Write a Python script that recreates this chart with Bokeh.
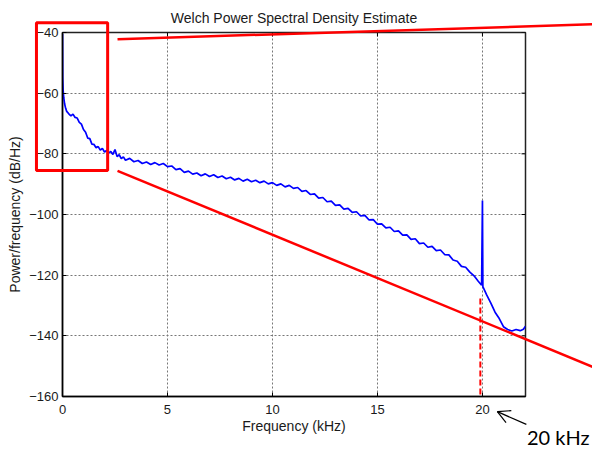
import math
from bokeh.plotting import figure
from bokeh.models import Range1d, FixedTicker
from bokeh.core.properties import value
from bokeh.embed import file_html
from bokeh.resources import INLINE

# ---- data (frequency in kHz, PSD in dB/Hz) ----
freq_khz = [0.0, 0.01, 0.03, 0.06, 0.1, 0.15, 0.2, 0.3, 0.4, 0.5, 0.6, 0.7, 0.8, 0.9,
            1.0, 1.1, 1.2, 1.3, 1.4, 1.5, 1.6, 1.7, 1.8, 1.9, 2.0, 2.1, 2.2, 2.3, 2.4,
            2.5, 2.6, 2.7, 2.8, 2.9, 3.0, 3.2, 3.4, 3.6, 3.8, 4.0, 4.2, 4.4, 4.6, 4.8,
            5.0, 5.2, 5.4, 5.6, 5.8, 6.0, 6.2, 6.4, 6.6, 6.8, 7.0, 7.2, 7.4, 7.6, 7.8,
            8.0, 8.2, 8.4, 8.6, 8.8, 9.0, 9.2, 9.4, 9.6, 9.8, 10.0, 10.2, 10.4, 10.6,
            10.8, 11.0, 11.2, 11.4, 11.6, 11.8, 12.0, 12.2, 12.4, 12.6, 12.8, 13.0,
            13.2, 13.4, 13.6, 13.8, 14.0, 14.2, 14.4, 14.6, 14.8, 15.0, 15.2, 15.4,
            15.6, 15.8, 16.0, 16.2, 16.4, 16.6, 16.8, 17.0, 17.2, 17.4, 17.6, 17.8,
            18.0, 18.2, 18.4, 18.6, 18.8, 19.0, 19.2, 19.4, 19.6, 19.8, 19.96, 20.0,
            20.02, 20.2, 20.4, 20.6, 20.8, 21.0, 21.2, 21.4, 21.6, 21.8, 21.95, 22.05]
psd_db = [-40.5, -55.0, -59.0, -61.5, -63.5, -65.0, -66.0, -66.8, -67.5, -66.9, -68.0,
          -68.2, -69.6, -70.2, -72.0, -72.9, -74.8, -75.0, -76.8, -76.9, -78.0, -77.6,
          -78.8, -78.2, -79.4, -78.9, -79.8, -79.2, -80.2, -78.6, -80.9, -80.3, -81.6,
          -81.0, -82.1, -81.5, -82.6, -82.2, -83.2, -82.7, -83.5, -82.9, -83.7, -83.2,
          -84.2, -84.0, -85.2, -84.9, -86.1, -85.7, -86.7, -86.3, -87.2, -86.6, -87.5,
          -86.9, -87.8, -87.3, -88.2, -87.7, -88.6, -88.1, -89.0, -88.4, -89.2, -88.7,
          -89.5, -89.0, -89.9, -89.5, -90.4, -89.9, -90.9, -90.4, -91.4, -91.1, -92.4,
          -92.1, -93.4, -93.2, -94.6, -94.4, -95.8, -95.6, -97.0, -96.8, -98.2, -98.0,
          -99.3, -99.1, -100.5, -100.3, -101.8, -101.7, -103.2, -103.1, -104.4, -104.2,
          -105.6, -105.4, -106.8, -106.7, -108.2, -108.0, -109.6, -109.4, -110.8,
          -110.5, -111.9, -111.7, -113.2, -113.3, -115.0, -115.4, -117.1, -117.4,
          -119.0, -120.2, -122.0, -123.3, -95.4, -123.8, -126.5, -129.2, -132.2,
          -134.3, -137.0, -137.9, -138.4, -137.9, -138.3, -137.8, -136.8]

x_ticks = [0, 5, 10, 15, 20]
y_ticks = [-160, -140, -120, -100, -80, -60, -40]
x_limits = (0, 22.05)
y_limits = (-160, -40)

title_text = "Welch Power Spectral Density Estimate"
x_label = "Frequency (kHz)"
y_label = "Power/frequency (dB/Hz)"
callout_text = ["20 kHz"]

# ---- annotation geometry (data units) ----
zoom_box_left = [-1.24]
zoom_box_right = [2.15]
zoom_box_top = [-36.8]
zoom_box_bottom = [-85.5]
upper_line_x = [2.62, 25.29]
upper_line_y = [-42.2, -37.3]
lower_line_x = [2.62, 25.29]
lower_line_y = [-85.6, -150.35]
marker_x = [19.9]
marker_y0 = [-127.7]
marker_y1 = [-160.0]
callout_tail = (22.09, -169.2)
callout_tip = (20.71, -165.0)
callout_text_x = [22.12]
callout_text_y = [-173.5]

FONT = "Liberation Sans"
FRAME_W, FRAME_H = 463, 365

p = figure(width=592, height=452, output_backend="svg", toolbar_location=None,
           x_range=Range1d(*x_limits), y_range=Range1d(*y_limits),
           min_border_left=62, min_border_right=67, min_border_top=31, min_border_bottom=56,
           title=title_text)

p.title.text_font = FONT
p.title.text_font_size = "14px"
p.title.text_font_style = "normal"
p.title.text_color = "#1a1a1a"
p.title.align = "center"
p.title.standoff = 14
p.title.offset = 0

p.line(freq_khz, psd_db, line_color="#0000ff", line_width=1.7)

for ax in (p.xaxis[0], p.yaxis[0]):
    ax.major_label_text_font = FONT
    ax.major_label_text_font_size = "13px"
    ax.major_label_text_color = "#1a1a1a"
    ax.axis_label_text_font = FONT
    ax.axis_label_text_font_size = "14px"
    ax.axis_label_text_font_style = "normal"
    ax.axis_label_text_color = "#1a1a1a"
    ax.axis_line_color = "black"
    ax.axis_line_width = 1.5
    ax.major_tick_in = 4
    ax.major_tick_out = 0
    ax.minor_tick_line_color = None
    ax.major_tick_line_color = "black"

p.xaxis[0].ticker = FixedTicker(ticks=x_ticks)
p.yaxis[0].ticker = FixedTicker(ticks=y_ticks)
p.xaxis[0].axis_label = x_label
p.yaxis[0].axis_label = y_label
p.xaxis[0].major_label_standoff = 8
p.xaxis[0].axis_label_standoff = 1
p.yaxis[0].major_label_standoff = 4
p.yaxis[0].axis_label_standoff = 3

p.xgrid.ticker = FixedTicker(ticks=x_ticks)
p.ygrid.ticker = FixedTicker(ticks=y_ticks)
p.grid.grid_line_color = "#777777"
p.grid.grid_line_dash = "2 2"
p.grid.grid_line_width = 1
p.grid.grid_line_alpha = 1
p.outline_line_color = "#222222"
p.outline_line_width = 1.5
p.background_fill_color = "white"
p.border_fill_color = "white"

# scale factors (pixels per data unit) used to size small marks
px_x = FRAME_W / (x_limits[1] - x_limits[0])
px_y = FRAME_H / (y_limits[1] - y_limits[0])

# inward tick marks on the top and right edges of the box
tick_len_x = 4 / px_x
tick_len_y = 4 / px_y
p.segment(x0=x_ticks, y0=[y_limits[1]] * len(x_ticks), x1=x_ticks,
          y1=[y_limits[1] - tick_len_y] * len(x_ticks), line_color="black", line_width=1)
p.segment(x0=[x_limits[1]] * len(y_ticks), y0=y_ticks, x1=[x_limits[1] - tick_len_x] * len(y_ticks),
          y1=y_ticks, line_color="black", line_width=1)

# red dashed marker at 20 kHz
p.segment(x0=marker_x, y0=marker_y0, x1=marker_x, y1=marker_y1,
          line_color="#ff0000", line_width=2, line_dash="6 3")

# zoom box and guide lines (drawn at overlay level so they can leave the axes)
p.quad(left=zoom_box_left, right=zoom_box_right, top=zoom_box_top, bottom=zoom_box_bottom,
       fill_alpha=0, line_color="#ff0000", line_width=3, level="overlay")
p.line(upper_line_x, upper_line_y, line_color="#ff0000", line_width=2.5, level="overlay")
p.line(lower_line_x, lower_line_y, line_color="#ff0000", line_width=2.5, level="overlay")

# callout arrow with an open head
p.segment(x0=[callout_tail[0]], y0=[callout_tail[1]], x1=[callout_tip[0]], y1=[callout_tip[1]],
          line_color="black", line_width=1.2, level="overlay")
dx = (callout_tail[0] - callout_tip[0]) * px_x
dy = (callout_tail[1] - callout_tip[1]) * px_y
ang = math.atan2(dy, dx)
head_len = 14
head_x0, head_y0, head_x1, head_y1 = [], [], [], []
for s in (-1, 1):
    a = ang + s * math.radians(28)
    head_x0.append(callout_tip[0])
    head_y0.append(callout_tip[1])
    head_x1.append(callout_tip[0] + head_len * math.cos(a) / px_x)
    head_y1.append(callout_tip[1] + head_len * math.sin(a) / px_y)
p.segment(x0=head_x0, y0=head_y0, x1=head_x1, y1=head_y1,
          line_color="black", line_width=1.2, level="overlay")

p.text(x=callout_text_x, y=callout_text_y, text=callout_text, text_font=value("Lato"),
       text_font_size="20px", text_color="black", text_baseline="middle",
       text_align="left", level="overlay")

open("out.html", "w").write(file_html(p, INLINE))
